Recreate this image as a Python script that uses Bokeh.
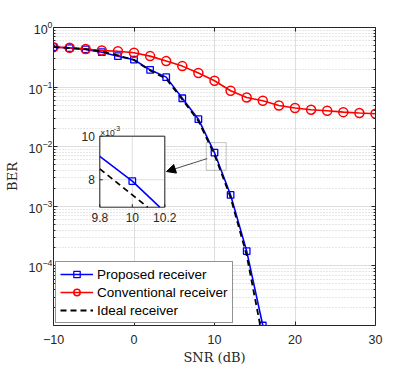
import numpy as np
from bokeh.plotting import figure
from bokeh.models import (Range1d, FixedTicker, LogAxis, LinearAxis, LogTickFormatter,
                          CustomJSTickFormatter, Legend, LegendItem, BoxAnnotation, Arrow,
                          NormalHead, LinearScale)
from bokeh.core.properties import value
from bokeh.embed import file_html
from bokeh.resources import INLINE

# ---------------- data ----------------
snr_conventional = [-10, -8, -6, -4, -2, 0, 2, 4, 6, 8, 10, 12, 14, 16, 18, 20, 22, 24, 26, 28, 30]
ber_conventional = [0.468, 0.457, 0.435, 0.41, 0.40, 0.377, 0.331, 0.273, 0.225, 0.172, 0.128,
                    0.087, 0.067, 0.059, 0.049, 0.0445, 0.0418, 0.040, 0.038, 0.0367, 0.0358]
snr_proposed = [-10, -8, -6, -4, -2, 0, 2, 4, 6, 8, 10, 12, 14, 16]
ber_proposed = [0.47, 0.452, 0.43, 0.385, 0.33, 0.288, 0.195, 0.147, 0.065, 0.029, 0.00794,
                0.00155, 1.77e-4, 1.0e-5]
ber_ideal = [0.47, 0.452, 0.432, 0.395, 0.34, 0.285, 0.19, 0.138, 0.062, 0.027, 0.0073,
             0.0014, 1.5e-4, 6e-6]

# zoomed inset curves (BER in units of 1e-3), ends where they leave the inset box
inset_snr_proposed = [9.8, 10.0, 10.169]
inset_ber_proposed = [9.07, 7.94, 6.74]
inset_snr_ideal = [9.8, 10.095]
inset_ber_ideal = [8.50, 6.74]

x_ticks = [-10, 0, 10, 20, 30]
y_ticks = [1e-4, 1e-3, 1e-2, 1e-1, 1]
y_minor = [m * 10.0 ** e for e in range(-5, 0) for m in range(2, 10)]
inset_x_ticks = [9.8, 10.0, 10.2]
inset_x_labels = ["9.8", "10", "10.2"]
inset_y_ticks = [8, 10]
inset_y_labels = ["8", "10"]
inset_xlim = (9.8, 10.2)
inset_ylim = (6.74, 10.0)

# zoom marker box and arrow (main data coordinates)
zoom_box = dict(left=8.97, right=11.45, bottom=0.00402, top=0.0117)
arrow_start = (9.09, 0.00632)
arrow_end = (4.04, 0.00383)

# geometry (pixels)
FRAME_W, FRAME_H = 322, 298
INSET_LEFT, INSET_TOP, INSET_W, INSET_H = 46.3, 108.7, 65, 71   # inset box inside main frame

AX = "#262626"
TICK_FONT = "Liberation Sans"
LABEL_FONT = "DejaVu Serif"

p = figure(frame_width=FRAME_W, frame_height=FRAME_H, x_range=Range1d(-10, 30),
           y_range=Range1d(1e-5, 1), y_axis_type="log", output_backend="svg",
           toolbar_location=None, min_border_left=53, min_border_right=16,
           min_border_top=27, min_border_bottom=44, outline_line_color=None,
           background_fill_color="white")

xt = FixedTicker(ticks=x_ticks)
yt = FixedTicker(ticks=y_ticks, minor_ticks=y_minor)
p.xaxis.ticker = xt
p.yaxis.ticker = yt
p.xgrid.ticker = xt
p.ygrid.ticker = yt
p.yaxis.formatter = LogTickFormatter()

for ax in (p.xaxis[0], p.yaxis[0]):
    ax.axis_line_color = AX
    ax.major_tick_line_color = AX
    ax.minor_tick_line_color = AX
    ax.major_tick_in = 4
    ax.major_tick_out = 0
    ax.minor_tick_in = 2
    ax.minor_tick_out = 0
    ax.major_label_text_font = TICK_FONT
    ax.major_label_text_font_size = "12.5px"
    ax.major_label_text_color = AX
    ax.axis_label_text_font = LABEL_FONT
    ax.axis_label_text_font_size = "13px"
    ax.axis_label_text_font_style = "normal"
    ax.axis_label_text_color = AX
p.xaxis.minor_tick_line_color = None
p.xaxis.major_label_standoff = 9
p.xaxis.axis_label_standoff = 3
p.yaxis.major_label_standoff = 1
p.yaxis.axis_label_standoff = 6
p.xaxis.axis_label = "SNR (dB)"
p.yaxis.axis_label = "BER"

blank = CustomJSTickFormatter(code="return ''")
top_ax = LinearAxis(ticker=xt, formatter=blank, major_tick_in=4, major_tick_out=0,
                    minor_tick_line_color=None, axis_line_color=AX, major_tick_line_color=AX,
                    major_label_text_font_size="0px", major_label_standoff=0)
right_ax = LogAxis(ticker=yt, formatter=blank, major_tick_in=4, major_tick_out=0,
                   minor_tick_in=2, minor_tick_out=0, axis_line_color=AX,
                   major_tick_line_color=AX, minor_tick_line_color=AX,
                   major_label_text_font_size="0px", major_label_standoff=0)
p.add_layout(top_ax, "above")
p.add_layout(right_ax, "right")

p.grid.grid_line_color = "#dedede"
p.ygrid.minor_grid_line_color = "#cfcfcf"
p.ygrid.minor_grid_line_dash = "1 2"

bl = p.line(snr_proposed, ber_proposed, line_color="blue", line_width=1.6)
bs = p.scatter(snr_proposed, ber_proposed, marker="square", size=6.5, line_color="blue",
               fill_color=None, line_width=1.3)
rl = p.line(snr_conventional, ber_conventional, line_color="red", line_width=1.6)
rs = p.scatter(snr_conventional, ber_conventional, marker="circle", size=9, line_color="red",
               fill_color=None, line_width=1.5)
kl = p.line(snr_proposed, ber_ideal, line_color="black", line_width=1.8, line_dash="6 4")

# ---------------- inset drawn in its own linear coordinate system ----------------
ix_per_px = (inset_xlim[1] - inset_xlim[0]) / INSET_W
iy_per_px = (inset_ylim[1] - inset_ylim[0]) / INSET_H
ix_start = inset_xlim[0] - INSET_LEFT * ix_per_px
iy_end = inset_ylim[1] + INSET_TOP * iy_per_px
p.extra_x_ranges = {"ix": Range1d(ix_start, ix_start + FRAME_W * ix_per_px)}
p.extra_y_ranges = {"iy": Range1d(iy_end - FRAME_H * iy_per_px, iy_end)}
p.extra_x_scales = {"ix": LinearScale()}
p.extra_y_scales = {"iy": LinearScale()}
IN = dict(x_range_name="ix", y_range_name="iy")

p.quad(left=[inset_xlim[0]], right=[inset_xlim[1]], bottom=[inset_ylim[0]], top=[inset_ylim[1]],
       fill_color="white", line_color=None, **IN)
# inset grid
p.segment(x0=inset_x_ticks, x1=inset_x_ticks, y0=[inset_ylim[0]] * 3, y1=[inset_ylim[1]] * 3,
          line_color="#dedede", line_width=1, **IN)
p.segment(x0=[inset_xlim[0]] * 2, x1=[inset_xlim[1]] * 2, y0=inset_y_ticks, y1=inset_y_ticks,
          line_color="#dedede", line_width=1, **IN)
# inset curves
p.line(inset_snr_proposed, inset_ber_proposed, line_color="blue", line_width=1.6, **IN)
inset_pts = [(s, b * 1e3) for s, b in zip(snr_proposed, ber_proposed)
             if inset_xlim[0] <= s <= inset_xlim[1]]
p.scatter([s for s, _ in inset_pts], [b for _, b in inset_pts], marker="square", size=6.5,
          line_color="blue", fill_color=None, line_width=1.3, **IN)
p.line(inset_snr_ideal, inset_ber_ideal, line_color="black", line_width=1.8, line_dash="6 4", **IN)
# inset ticks (3 px, inward)
tx = 3 * ix_per_px
ty = 3 * iy_per_px
p.segment(x0=inset_x_ticks, x1=inset_x_ticks, y0=[inset_ylim[0]] * 3,
          y1=[inset_ylim[0] + ty] * 3, line_color=AX, line_width=1, **IN)
p.segment(x0=[inset_xlim[0]] * 2, x1=[inset_xlim[0] + tx] * 2, y0=inset_y_ticks,
          y1=inset_y_ticks, line_color=AX, line_width=1, **IN)
# inset box
p.quad(left=[inset_xlim[0]], right=[inset_xlim[1]], bottom=[inset_ylim[0]], top=[inset_ylim[1]],
       fill_color=None, line_color=AX, line_width=1, **IN)
# inset tick labels
p.text(x=inset_x_ticks, y=[inset_ylim[0]] * 3, text=inset_x_labels, y_offset=6,
       text_align="center", text_baseline="top", text_font=value(TICK_FONT),
       text_font_size="12px", text_color=AX, **IN)
p.text(x=[inset_xlim[0]] * 2, y=inset_y_ticks, text=inset_y_labels, x_offset=-5,
       text_align="right", text_baseline="middle", text_font=value(TICK_FONT),
       text_font_size="12px", text_color=AX, **IN)
p.text(x=[inset_xlim[0]], y=[inset_ylim[1]], text=["×10"], y_offset=-3, x_offset=0.5,
       text_align="left", text_baseline="alphabetic", text_font=value(TICK_FONT),
       text_font_size="8.5px", text_color=AX, **IN)
p.text(x=[inset_xlim[0]], y=[inset_ylim[1]], text=["-3"], x_offset=14, y_offset=-8,
       text_align="left", text_baseline="alphabetic", text_font=value(TICK_FONT),
       text_font_size="7px", text_color=AX, **IN)

p.add_layout(BoxAnnotation(fill_alpha=0, line_color="#404040", line_width=1, **zoom_box))
p.add_layout(Arrow(end=NormalHead(size=9, fill_color="black", line_color="black"),
                   x_start=arrow_start[0], y_start=arrow_start[1],
                   x_end=arrow_end[0], y_end=arrow_end[1],
                   line_color="black", line_width=0.7))

legend = Legend(items=[LegendItem(label="Proposed receiver", renderers=[bl, bs]),
                       LegendItem(label="Conventional receiver", renderers=[rl, rs]),
                       LegendItem(label="Ideal receiver", renderers=[kl])],
                location=(2, 2), padding=4, spacing=2, margin=0, glyph_width=33,
                glyph_height=16, label_height=16, label_standoff=4,
                label_text_font=TICK_FONT, label_text_font_size="13.5px",
                label_text_color="black", border_line_color=AX, border_line_width=0.8,
                background_fill_color="white", background_fill_alpha=1)
p.add_layout(legend)

open("out.html", "w").write(file_html(p, INLINE))
